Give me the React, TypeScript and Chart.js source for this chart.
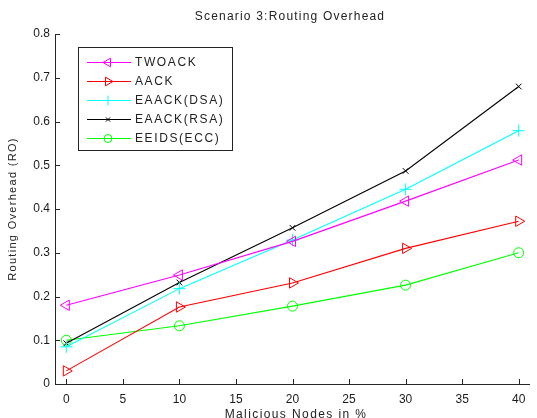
import React, { useEffect, useRef } from "react";
import { Chart, registerables } from "chart.js";
import { drawPoint } from "chart.js/helpers";

Chart.register(...registerables);

const xValues = [0, 10, 20, 30, 40];
const twoack = [0.18, 0.249, 0.326, 0.418, 0.512];
const aack = [0.03, 0.176, 0.231, 0.31, 0.372];
const eaackDsa = [0.085, 0.218, 0.329, 0.445, 0.579];
const eaackRsa = [0.093, 0.232, 0.357, 0.487, 0.68];
const eeids = [0.1, 0.133, 0.178, 0.226, 0.3];
const seriesNames = ["TWOACK", "AACK", "EAACK(DSA)", "EAACK(RSA)", "EEIDS(ECC)"];
const seriesColors = ["#ff00ff", "#ff0000", "#00ffff", "#000000", "#00ff00"];
const xTicks = [0, 5, 10, 15, 20, 25, 30, 35, 40];
const yTicks = [0, 0.1, 0.2, 0.3, 0.4, 0.5, 0.6, 0.7, 0.8];

const titleText = "Scenario 3:Routing Overhead";
const xTitle = "Malicious Nodes in %";
const yTitle = "Routing Overhead (RO)";

const FONT = "'Liberation Sans', Arial, sans-serif";
const AXIS = "#262626";

const pts = (vals: number[]) => vals.map((v, i) => ({ x: xValues[i], y: v }));

export default function App() {
  const ref = useRef<HTMLCanvasElement | null>(null);
  useEffect(() => {
    if (!ref.current) return;
    const mk = (i: number, data: number[], style: string, rotation = 0, radius = 5) => ({
      label: seriesNames[i],
      data: pts(data),
      borderColor: seriesColors[i],
      backgroundColor: seriesColors[i],
      borderWidth: 1.1,
      pointStyle: style,
      pointRotation: rotation,
      pointRadius: radius,
      pointBorderWidth: 1,
      pointBorderColor: seriesColors[i],
      pointBackgroundColor: "rgba(0,0,0,0)",
      tension: 0,
    });
    const datasets = [
      mk(0, twoack, "triangle", -90, 6),
      mk(1, aack, "triangle", 90, 6),
      mk(2, eaackDsa, "cross", 0, 6),
      mk(3, eaackRsa, "crossRot", 0, 4),
      mk(4, eeids, "circle", 0, 5),
    ];

    const decor = {
      id: "decor",
      afterDraw(chart: any) {
        const ctx = chart.ctx;
        const a = chart.chartArea;
        const xs = chart.scales.x;
        const ys = chart.scales.y;
        ctx.save();
        // axes
        ctx.strokeStyle = AXIS;
        ctx.lineWidth = 1;
        ctx.beginPath();
        ctx.moveTo(a.left + 0.5, a.top);
        ctx.lineTo(a.left + 0.5, a.bottom + 0.5);
        ctx.lineTo(a.right, a.bottom + 0.5);
        ctx.stroke();
        // inward ticks
        ctx.beginPath();
        for (const t of yTicks) {
          const y = Math.round(ys.getPixelForValue(t)) + 0.5;
          ctx.moveTo(a.left, y);
          ctx.lineTo(a.left + 5, y);
        }
        for (const t of xTicks) {
          const x = Math.round(xs.getPixelForValue(t)) + 0.5;
          ctx.moveTo(x, a.bottom);
          ctx.lineTo(x, a.bottom - 5);
        }
        ctx.stroke();

        // titles
        ctx.fillStyle = "#222";
        ctx.textAlign = "center";
        ctx.textBaseline = "middle";
        ctx.font = `12px ${FONT}`;
        (ctx as any).letterSpacing = "1.2px";
        ctx.fillText(titleText, 290, 17);
        (ctx as any).letterSpacing = "1.4px";
        ctx.fillText(xTitle, 296, 415);
        ctx.save();
        ctx.translate(13, 209);
        ctx.rotate(-Math.PI / 2);
        ctx.font = `11px ${FONT}`;
        (ctx as any).letterSpacing = "1.3px";
        ctx.fillText(yTitle, 0, 0);
        ctx.restore();

        // legend
        const lx = 78, ly = 47, lw = 154, lh = 103;
        ctx.fillStyle = "#ffffff";
        ctx.fillRect(lx, ly, lw, lh);
        ctx.strokeStyle = "#222";
        ctx.lineWidth = 1;
        ctx.strokeRect(lx + 0.5, ly + 0.5, lw, lh);
        ctx.font = `12px ${FONT}`;
        (ctx as any).letterSpacing = "1.6px";
        ctx.textAlign = "left";
        ctx.textBaseline = "middle";
        chart.data.datasets.forEach((ds: any, i: number) => {
          const y = 62 + i * 19;
          ctx.strokeStyle = seriesColors[i];
          ctx.lineWidth = 1.1;
          ctx.beginPath();
          ctx.moveTo(87, y + 0.5);
          ctx.lineTo(131, y + 0.5);
          ctx.stroke();
          ctx.strokeStyle = seriesColors[i];
          ctx.lineWidth = 1;
          ctx.fillStyle = "rgba(0,0,0,0)";
          drawPoint(ctx, {
            pointStyle: ds.pointStyle,
            rotation: ds.pointRotation,
            radius: Math.max(3, ds.pointRadius - 1),
            borderWidth: 1,
          } as any, 108, y + 0.5);
          ctx.fillStyle = "#222";
          ctx.fillText(ds.label, 135, y + 1);
        });
        (ctx as any).letterSpacing = "0px";
        ctx.restore();
      },
    };

    const chart = new Chart(ref.current, {
      type: "line",
      data: { datasets: datasets as any },
      options: {
        animation: false,
        responsive: false,
        layout: { padding: { top: 34, left: 0, right: 0, bottom: 0 } },
        plugins: { legend: { display: false }, title: { display: false }, tooltip: { enabled: false } },
        scales: {
          x: {
            type: "linear",
            min: -1,
            max: 41,
            grid: { display: false, drawTicks: false },
            border: { display: false },
            afterBuildTicks: (s: any) => {
              s.ticks = xTicks.map((v) => ({ value: v }));
            },
            afterFit: (s: any) => {
              s.height = 34;
            },
            ticks: {
              autoSkip: false,
              maxRotation: 0,
              padding: 8,
              color: "#1a1a1a",
              font: { family: FONT, size: 12 },
              callback: (v: any) => String(v),
            },
          },
          y: {
            type: "linear",
            min: 0,
            max: 0.8,
            grid: { display: false, drawTicks: false },
            border: { display: false },
            afterBuildTicks: (s: any) => {
              s.ticks = yTicks.map((v) => ({ value: v }));
            },
            afterFit: (s: any) => {
              s.width = 55;
            },
            ticks: {
              padding: 5,
              color: "#1a1a1a",
              font: { family: FONT, size: 12 },
              callback: (v: any) => (v === 0 ? "0" : Number(v).toFixed(1)),
            },
          },
        },
      },
      plugins: [decor],
    });
    return () => chart.destroy();
  }, []);
  return (
    <div style={{ position: "fixed", left: 0, top: 0, width: 537, height: 418, background: "#fff" }}>
      <canvas ref={ref} width={537} height={418} style={{ display: "block" }} />
    </div>
  );
}
